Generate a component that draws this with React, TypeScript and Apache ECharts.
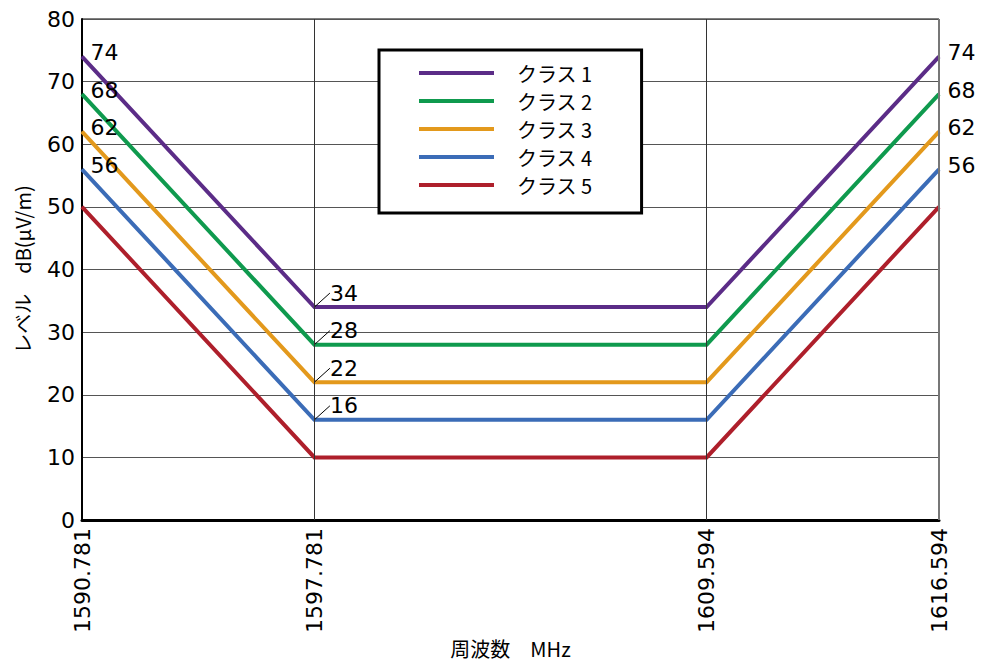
import React, { useEffect, useRef } from "react";
import * as echarts from "echarts";

const freqs = [1590.781, 1597.781, 1609.594, 1616.594];
const freqLabels = ["1590.781", "1597.781", "1609.594", "1616.594"];
const classNames = ["クラス 1", "クラス 2", "クラス 3", "クラス 4", "クラス 5"];
const class1 = [74, 34, 34, 74];
const class2 = [68, 28, 28, 68];
const class3 = [62, 22, 22, 62];
const class4 = [56, 16, 16, 56];
const class5 = [50, 10, 10, 50];
const classValues = [class1, class2, class3, class4, class5];
const labelled = [true, true, true, true, false];
const colors = ["#5b2c87", "#0f9a4e", "#e3991c", "#3b6cb7", "#ae1f2b"];

const NUM_FONT = "'DejaVu Sans', 'Noto Sans CJK JP', sans-serif";
const JP_FONT = "'Noto Sans CJK JP', 'DejaVu Sans', sans-serif";

export default function App() {
  const ref = useRef<HTMLDivElement>(null);
  useEffect(() => {
    if (!ref.current) return;
    const chart = echarts.init(ref.current, undefined, { renderer: "svg" });
    const series: any[] = classValues.map((vals, si) => ({
      name: classNames[si],
      type: "line",
      symbol: "circle",
      symbolSize: 1,
      lineStyle: { color: colors[si], width: 4, join: "miter" },
      itemStyle: { color: colors[si] },
      labelLine: { show: false },
      labelLayout: (p: any) =>
        p.dataIndex === 1 ? { dx: 10, dy: -14 } : { dx: 3, dy: -4 },
      data: freqs.map((f, i) => ({
        value: [f, vals[i]],
        labelLine: {
          show: i === 1,
          lineStyle: { color: "#000", width: 1 },
        },
        label: {
          show: labelled[si] && i !== 2,
          position: "right",
          color: "#000",
          fontFamily: NUM_FONT,
          fontSize: 22,
          formatter: String(vals[i]),
        },
      })),
    }));
    series.push({
      name: "_grid",
      type: "line",
      data: [],
      silent: true,
      markLine: {
        silent: true,
        symbol: "none",
        label: { show: false },
        animation: false,
        data: [
          { xAxis: freqs[1], lineStyle: { color: "#333", width: 1, type: "solid" } },
          { xAxis: freqs[2], lineStyle: { color: "#333", width: 1, type: "solid" } },
          { xAxis: freqs[3], lineStyle: { color: "#777", width: 2, type: "solid" } },
        ],
      },
    });
    chart.setOption({
      animation: false,
      backgroundColor: "#fff",
      grid: {
        left: 82,
        right: 50,
        top: 19,
        bottom: 142,
        containLabel: false,
        outerBoundsMode: "none",
        show: true,
        borderColor: "#000",
        borderWidth: 1,
        backgroundColor: "transparent",
      },
      legend: {
        data: classNames,
        orient: "vertical",
        left: 379,
        top: 50,
        padding: [13, 49, 18, 40],
        itemGap: 8,
        itemWidth: 75,
        itemHeight: 4,
        icon: "rect",
        backgroundColor: "#fff",
        borderColor: "#000",
        borderWidth: 3,
        selectedMode: false,
        textStyle: {
          fontFamily: JP_FONT,
          fontSize: 20,
          color: "#000",
          padding: [0, 0, 0, 18],
          lineHeight: 20,
        },
      },
      xAxis: {
        type: "value",
        min: freqs[0],
        max: freqs[3],
        name: "周波数　MHz",
        nameLocation: "middle",
        nameGap: 118,
        nameMoveOverlap: false,
        nameTextStyle: { fontFamily: JP_FONT, fontSize: 20, color: "#000" },
        axisLine: { show: true, lineStyle: { color: "#000", width: 3 } },
        axisTick: { show: false },
        splitLine: { show: false },
        axisLabel: {
          customValues: freqs,
          rotate: 90,
          margin: 8,
          color: "#000",
          fontFamily: NUM_FONT,
          fontSize: 22,
          formatter: (v: number) => {
            const idx = freqs.findIndex((f) => Math.abs(f - v) < 1e-6);
            return idx >= 0 ? freqLabels[idx] : "";
          },
        },
      },
      yAxis: {
        type: "value",
        min: 0,
        max: 80,
        interval: 10,
        name: "レベル　dB(μV/m)",
        nameLocation: "middle",
        nameGap: 50,
        nameMoveOverlap: false,
        nameTextStyle: { fontFamily: JP_FONT, fontSize: 20, color: "#000" },
        axisLine: { show: true, lineStyle: { color: "#000", width: 2 } },
        axisTick: { show: false },
        axisLabel: {
          margin: 7,
          color: "#000",
          fontFamily: NUM_FONT,
          fontSize: 22,
        },
        splitLine: { show: true, lineStyle: { color: "#555", width: 1 } },
      },
      series,
    });
    return () => chart.dispose();
  }, []);
  return (
    <div
      ref={ref}
      style={{ position: "fixed", left: 0, top: 0, width: 989, height: 662 }}
    />
  );
}
